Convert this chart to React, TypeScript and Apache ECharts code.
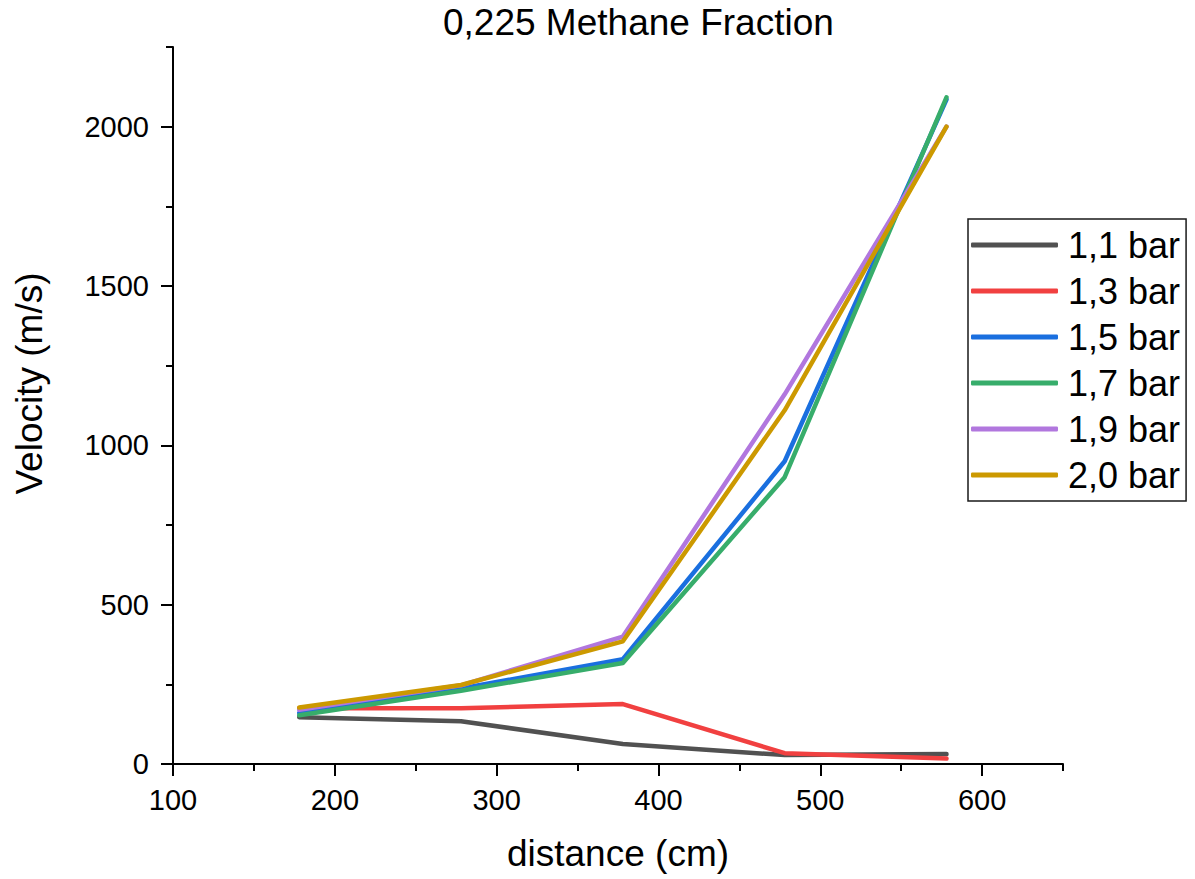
import React, { useEffect, useRef } from "react";
import * as echarts from "echarts";

const distances = [178, 278, 378, 478, 578];
const seriesNames = ["1,1 bar", "1,3 bar", "1,5 bar", "1,7 bar", "1,9 bar", "2,0 bar"];
const v11 = [147, 134, 63, 28, 31];
const v13 = [175, 175, 188, 34, 17];
const v15 = [160, 237, 329, 950, 2085];
const v17 = [153, 230, 317, 900, 2092];
const v19 = [170, 247, 400, 1160, 2000];
const v20 = [177, 248, 385, 1110, 2000];
const seriesValues = [v11, v13, v15, v17, v19, v20];
const colors = ["#515151", "#F14040", "#1A6FDF", "#37AD6B", "#B177DE", "#CC9900"];

const xMajor = [100, 200, 300, 400, 500, 600];
const xMinor = [150, 250, 350, 450, 550, 650];
const yMajor = [0, 500, 1000, 1500, 2000];
const yMinor = [250, 750, 1250, 1750, 2250];

const FONT = "'Liberation Sans', Arial, sans-serif";

export default function App() {
  const ref = useRef<HTMLDivElement>(null);
  useEffect(() => {
    if (!ref.current) return;
    const chart = echarts.init(ref.current, null, { renderer: "svg" });
    const axisLine = { show: true, onZero: false, lineStyle: { color: "#000", width: 2 } };
    const plain = (v: number) => String(v);
    chart.setOption({
      animation: false,
      backgroundColor: "#fff",
      title: {
        text: "0,225 Methane Fraction",
        left: 443,
        top: 4,
        padding: 0,
        textStyle: { fontFamily: FONT, fontSize: 37, fontWeight: "normal", color: "#000" },
      },
      grid: { left: 173, right: 132, top: 47, bottom: 115, containLabel: false },
      legend: {
        orient: "vertical",
        left: 968,
        top: 219,
        itemWidth: 87,
        itemHeight: 5,
        itemGap: 10,
        padding: [8, 6, 8, 3],
        borderColor: "#1a1a1a",
        borderWidth: 1.5,
        backgroundColor: "#fff",
        icon: "roundRect",
        data: seriesNames,
        textStyle: { fontFamily: FONT, fontSize: 36, lineHeight: 36, color: "#000", padding: [0, 0, 0, 5] },
      },
      xAxis: [
        {
          type: "value",
          min: 100,
          max: 650,
          position: "bottom",
          axisLine,
          axisTick: { show: true, length: 12, lineStyle: { color: "#000", width: 2 }, customValues: xMajor },
          axisLabel: { customValues: xMajor, formatter: plain, fontFamily: FONT, fontSize: 29, color: "#000", margin: 21 },
          splitLine: { show: false },
          name: "distance (cm)",
          nameLocation: "middle",
          nameGap: 71,
          nameTextStyle: { fontFamily: FONT, fontSize: 37, color: "#000" },
        },
        {
          type: "value",
          min: 100,
          max: 650,
          position: "bottom",
          axisLine: { show: false },
          axisTick: { show: true, length: 7, lineStyle: { color: "#000", width: 2 }, customValues: xMinor },
          axisLabel: { show: false },
          splitLine: { show: false },
        },
      ],
      yAxis: [
        {
          type: "value",
          min: 0,
          max: 2250,
          position: "left",
          axisLine,
          axisTick: { show: true, length: 12, lineStyle: { color: "#000", width: 2 }, customValues: yMajor },
          axisLabel: { customValues: yMajor, formatter: plain, fontFamily: FONT, fontSize: 29, color: "#000", margin: 24 },
          splitLine: { show: false },
          name: "Velocity (m/s)",
          nameLocation: "middle",
          nameGap: 125,
          nameRotate: 90,
          nameTextStyle: { fontFamily: FONT, fontSize: 37, color: "#000", padding: [0, 0, 0, 44] },
        },
        {
          type: "value",
          min: 0,
          max: 2250,
          position: "left",
          axisLine: { show: false },
          axisTick: { show: true, length: 7, lineStyle: { color: "#000", width: 2 }, customValues: yMinor },
          axisLabel: { show: false },
          splitLine: { show: false },
        },
      ],
      series: seriesNames.map((name, si) => ({
        name,
        type: "line",
        xAxisIndex: 0,
        yAxisIndex: 0,
        symbol: "none",
        color: colors[si],
        itemStyle: { color: colors[si] },
        lineStyle: { color: colors[si], width: 4.5, cap: "round", join: "round" },
        data: distances.map((d, i) => [d, seriesValues[si][i]]),
      })),
    });
    return () => chart.dispose();
  }, []);
  return (
    <div
      ref={ref}
      style={{ position: "absolute", left: 0, top: 0, width: 1195, height: 879, background: "#fff" }}
    />
  );
}
